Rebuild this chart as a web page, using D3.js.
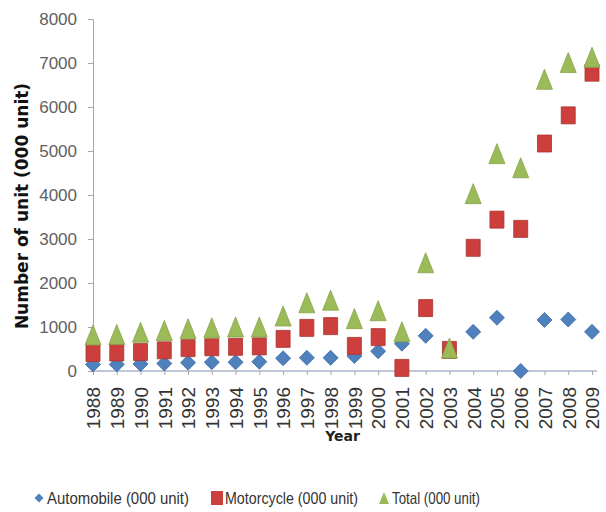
<!DOCTYPE html>
<html>
<head>
<meta charset="utf-8">
<script src="https://cdn.jsdelivr.net/npm/d3@7"></script>
<style>
  body { margin: 0; background: #fff; }
  svg { display: block; }
</style>
</head>
<body>
<div id="chart"></div>
<script>
// values (000 unit)
const years = [1988, 1989, 1990, 1991, 1992, 1993, 1994, 1995, 1996, 1997, 1998,
               1999, 2000, 2001, 2002, 2003, 2004, 2005, 2006, 2007, 2008, 2009];
const automobile = [150, 150, 160, 170, 190, 200, 200, 210, 290, 300, 300,
                    340, 450, 620, 800, null, 890, 1210, 0, 1160, 1170, 890];
const motorcycle = [410, 420, 430, 470, 520, 540, 550, 560, 730, 980, 1020,
                    570, 770, 70, 1430, 480, 2800, 3440, 3230, 5170, 5810, 6780];
const total = [820, 830, 880, 920, 960, 980, 1000, 1000, 1250, 1550, 1610,
               1190, 1370, 890, 2460, 520, 4030, 4940, 4620, 6630, 7010, 7130];
const yTicks = [0, 1000, 2000, 3000, 4000, 5000, 6000, 7000, 8000];
const seriesNames = ['Automobile (000 unit)', 'Motorcycle (000 unit)', 'Total (000 unit)'];

const width = 606, height = 512;
const colors = { auto: '#4F81BD', moto: '#CC3F3C', total: '#9BBB59' };

const svg = d3.select('#chart').append('svg')
  .attr('width', width)
  .attr('height', height);

const x = d3.scalePoint()
  .domain(years)
  .range([93, 592]);

const y = d3.scaleLinear()
  .domain([0, 8000])
  .range([371, 19]);

// y axis
const yAxis = svg.append('g')
  .attr('transform', 'translate(93,0)')
  .call(d3.axisLeft(y).tickValues(yTicks).tickFormat(d3.format('d')).tickSize(5).tickPadding(11));
yAxis.select('.domain').attr('stroke', '#a6a6a6');
yAxis.selectAll('.tick line').attr('stroke', '#a6a6a6');
yAxis.selectAll('.tick text')
  .attr('fill', '#606060')
  .style('font-family', '"Liberation Sans", Arial, sans-serif')
  .style('font-size', '17px');

// x axis
const xAxis = svg.append('g')
  .attr('transform', 'translate(0,371)')
  .call(d3.axisBottom(x).tickSize(4).tickSizeOuter(0));
xAxis.select('.domain')
  .attr('d', 'M93,0H597')
  .attr('stroke', '#7f8fb0');
xAxis.selectAll('.tick line').attr('stroke', '#a6a6a6');
xAxis.selectAll('.tick text')
  .attr('fill', '#333')
  .attr('transform', 'rotate(-90)')
  .attr('text-anchor', 'end')
  .attr('x', -16)
  .attr('y', 0)
  .attr('dy', '0.36em')
  .style('font-family', '"Liberation Sans", Arial, sans-serif')
  .style('font-size', '19px');

// axis titles
svg.append('text')
  .attr('transform', 'translate(28,206) rotate(-90)')
  .attr('text-anchor', 'middle')
  .style('font-family', '"DejaVu Sans", sans-serif')
  .style('font-weight', 'bold')
  .style('font-size', '17px')
  .attr('fill', '#111')
  .text('Number of unit (000 unit)');

svg.append('text')
  .attr('x', (x.range()[0] + x.range()[1]) / 2)
  .attr('y', 441)
  .attr('text-anchor', 'middle')
  .style('font-family', '"DejaVu Sans", sans-serif')
  .style('font-weight', 'bold')
  .style('font-size', '14px')
  .attr('fill', '#222')
  .text('Year');

// marker shapes
const diamond = s => `M0,${-s}L${s},0L0,${s}L${-s},0Z`;
const square = (w, h) => `M${-w},${-h}H${w}V${h}H${-w}Z`;
const triangle = (w, h) => `M0,${-h}L${w},${h}H${-w}Z`;

const plot = svg.append('g');

function drawSeries(values, path, fill, stroke) {
  plot.append('g')
    .selectAll('path')
    .data(years.map((yr, i) => ({ yr, v: values[i] })).filter(d => d.v != null))
    .join('path')
    .attr('transform', d => `translate(${x(d.yr)},${y(d.v)})`)
    .attr('d', path)
    .attr('fill', fill)
    .attr('stroke', stroke)
    .attr('stroke-width', 0.8);
}

drawSeries(automobile, diamond(7.5), colors.auto, '#3c6aa3');
drawSeries(motorcycle, square(7, 8.5), colors.moto, '#a83331');
drawSeries(total, triangle(8, 10), colors.total, '#86a348');

// legend
const legend = svg.append('g')
  .style('font-family', '"Liberation Sans", sans-serif')
  .style('font-size', '17px')
  .attr('fill', '#333');

const legendItems = [
  { name: seriesNames[0], x: 39, w: 142, shape: diamond(4.5), color: colors.auto },
  { name: seriesNames[1], x: 217, w: 133, shape: square(6, 7), color: colors.moto },
  { name: seriesNames[2], x: 384, w: 88, shape: triangle(5, 6), color: colors.total }
];

const li = legend.selectAll('g')
  .data(legendItems)
  .join('g')
  .attr('transform', d => `translate(${d.x},498)`);
li.append('path')
  .attr('d', d => d.shape)
  .attr('fill', d => d.color);
li.append('text')
  .attr('x', 8)
  .attr('dy', '0.35em')
  .attr('textLength', d => d.w)
  .attr('lengthAdjust', 'spacingAndGlyphs')
  .text(d => d.name);
</script>
</body>
</html>
